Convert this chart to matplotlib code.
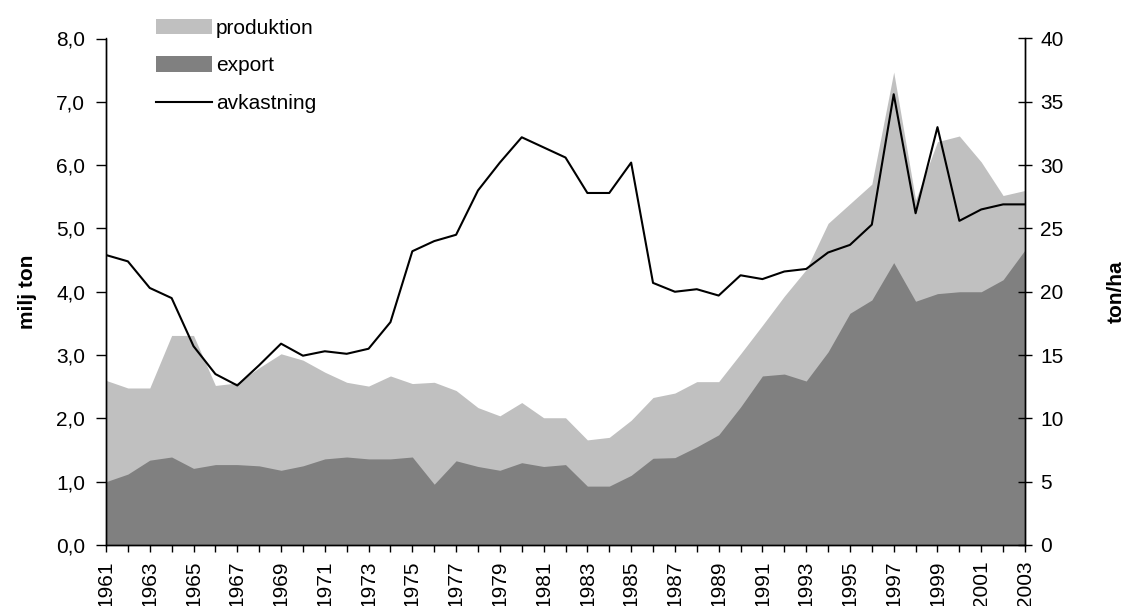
import matplotlib
matplotlib.use("Agg")
import matplotlib.pyplot as plt
from matplotlib.patches import Patch
from matplotlib.lines import Line2D

plt.rcParams['font.family'] = ['Liberation Sans', 'DejaVu Sans']

# --- data ---
years = list(range(1961, 2004))

# produktion, milj ton
produktion = [2.60, 2.48, 2.48, 3.31, 3.31, 2.52, 2.56, 2.80, 3.02, 2.92,
              2.73, 2.57, 2.51, 2.67, 2.55, 2.57, 2.44, 2.17, 2.04, 2.25,
              2.01, 2.01, 1.66, 1.70, 1.97, 2.33, 2.40, 2.58, 2.58, 3.02,
              3.47, 3.93, 4.35, 5.08, 5.39, 5.70, 7.47, 5.45, 6.37, 6.46,
              6.05, 5.52, 5.60]

# export, milj ton
export = [1.00, 1.12, 1.34, 1.39, 1.21, 1.27, 1.27, 1.25, 1.18, 1.25,
          1.36, 1.39, 1.36, 1.36, 1.39, 0.96, 1.33, 1.24, 1.18, 1.30,
          1.24, 1.27, 0.93, 0.93, 1.10, 1.37, 1.38, 1.55, 1.74, 2.18,
          2.67, 2.70, 2.59, 3.05, 3.66, 3.87, 4.46, 3.85, 3.97, 4.00,
          4.00, 4.19, 4.66]

# avkastning, ton/ha (right axis)
avkastning = [22.9, 22.4, 20.3, 19.5, 15.7, 13.5, 12.6, 14.2, 15.9, 14.95,
              15.3, 15.1, 15.5, 17.6, 23.2, 24.0, 24.5, 28.0, 30.2, 32.2,
              31.4, 30.6, 27.8, 27.8, 30.2, 20.7, 20.0, 20.2, 19.7, 21.3,
              21.0, 21.6, 21.8, 23.1, 23.7, 25.3, 35.6, 26.2, 33.0, 25.6,
              26.5, 26.9, 26.9]

left_ticks = [0, 1, 2, 3, 4, 5, 6, 7, 8]
left_ticklabels = ["0,0", "1,0", "2,0", "3,0", "4,0", "5,0", "6,0", "7,0", "8,0"]
right_ticks = [0, 5, 10, 15, 20, 25, 30, 35, 40]
year_labels = [str(y) if (y - 1961) % 2 == 0 else "" for y in years]

# --- figure ---
fig = plt.figure(figsize=(11.24, 6.06), dpi=100)
ax = fig.add_axes([106 / 1124, 61 / 606, 919 / 1124, 506.5 / 606])
ax2 = ax.twinx()

fs = 15
light = "#c0c0c0"
dark = "#808080"

ax.fill_between(years, 0, produktion, color=light, linewidth=0)
ax.fill_between(years, 0, export, color=dark, linewidth=0)
ax2.plot(years, avkastning, color="black", linewidth=1.5)

ax.set_xlim(1961, 2003)
ax.set_ylim(0, 8)
ax2.set_ylim(0, 40)

ax.set_yticks(left_ticks)
ax.set_yticklabels(left_ticklabels, fontsize=fs)
ax2.set_yticks(right_ticks)
ax2.set_yticklabels([str(t) for t in right_ticks], fontsize=fs)
ax.set_xticks(years)
ax.set_xticklabels(year_labels, rotation=90, fontsize=fs)

ax.tick_params(axis="y", direction="out", length=7, width=1, pad=8)
ax.tick_params(axis="x", direction="out", length=5, width=1, pad=6)
ax2.tick_params(axis="y", direction="inout", length=10, width=1, pad=6)

for a in (ax, ax2):
    a.spines["top"].set_visible(False)
    for s in ("left", "right", "bottom"):
        a.spines[s].set_linewidth(1)
        a.spines[s].set_color("black")

ax.set_ylabel("milj ton", fontsize=fs, fontweight="bold")
ax.yaxis.set_label_coords(-0.0751, 0.5)
ax2.set_ylabel("ton/ha", fontsize=fs, fontweight="bold")
ax2.yaxis.set_label_coords(1.0892, 0.5)

handles = [Patch(facecolor=light, edgecolor="none"),
           Patch(facecolor=dark, edgecolor="none"),
           Line2D([0], [0], color="black", linewidth=1.5)]
fig.legend(handles, ["produktion", "export", "avkastning"],
           loc="upper left", bbox_to_anchor=(141 / 1124, 1 - 4 / 606),
           frameon=False, fontsize=fs, handlelength=2.7, handleheight=0.75,
           handletextpad=0.2, labelspacing=0.9, borderpad=0.2)

fig.savefig("out.png", dpi=100)
